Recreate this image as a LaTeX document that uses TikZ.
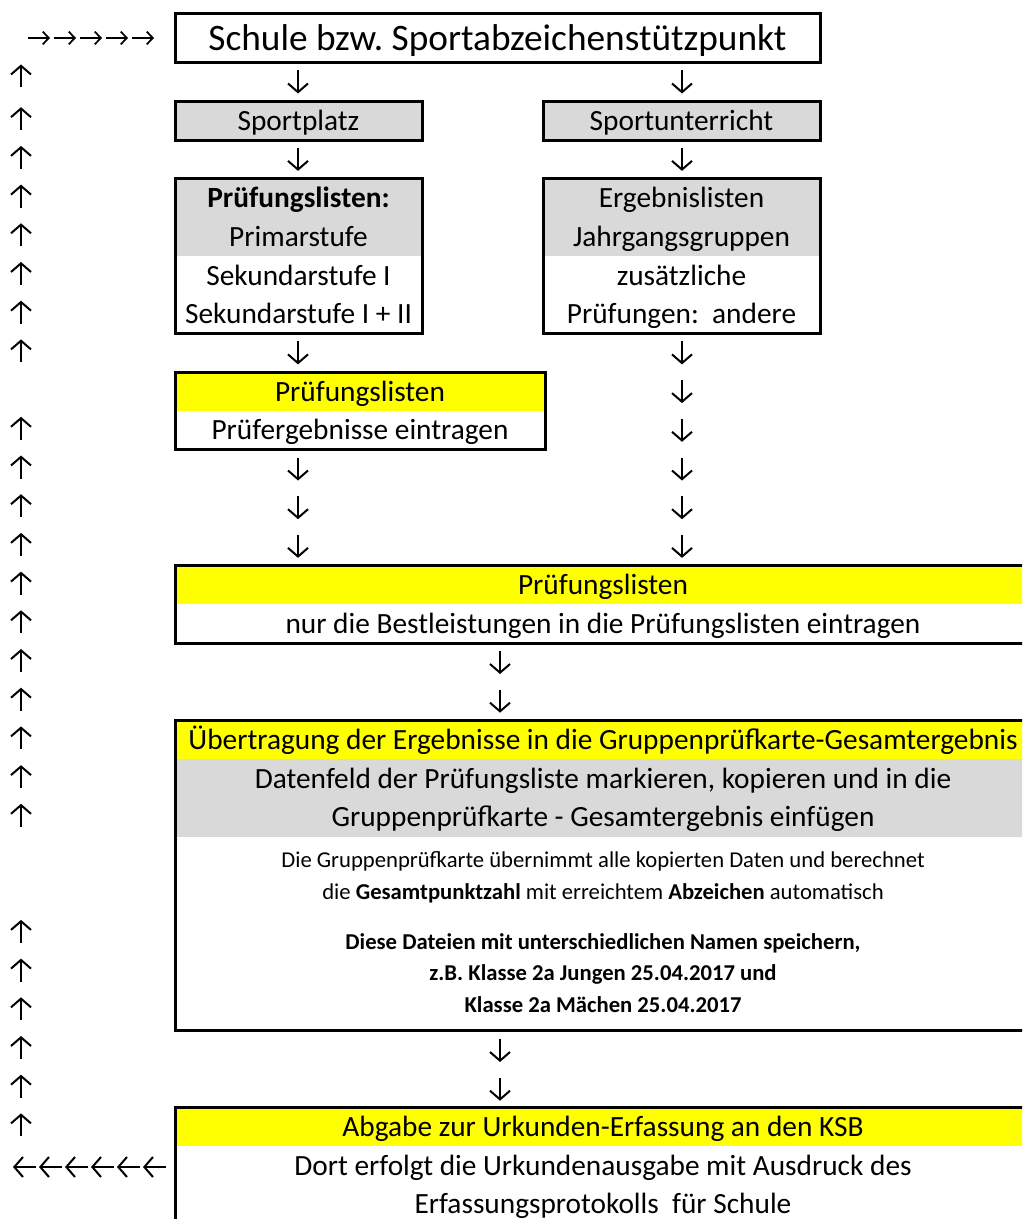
\documentclass[tikz,border=0pt]{standalone}
\usepackage{fontspec}
\setmainfont{Carlito}
\usetikzlibrary{arrows.meta}
\definecolor{zellgrau}{HTML}{D9D9D9}
\definecolor{zellgelb}{HTML}{FFFF00}

\begin{document}
\begin{tikzpicture}[x=0.75pt,y=-0.75pt,
    txt/.style={inner sep=0pt,text height=14.5pt,text depth=0pt,font=\fontsize{22}{26}\selectfont},
    titel/.style={inner sep=0pt,text height=18.5pt,text depth=0pt,font=\fontsize{28}{32}\selectfont},
    klein/.style={inner sep=0pt,text height=11.2pt,text depth=0pt,font=\fontsize{17}{20}\selectfont},
    fett/.style={klein,font=\fontsize{17}{20}\selectfont\bfseries},
    pfeil/.style={line width=1.5pt,-{Straight Barb[length=6.5pt,width=15pt]}},
    kpfeil/.style={line width=1.3pt,-{Straight Barb[length=4.5pt,width=9.5pt]}},
    rahmen/.style={draw,line width=2.25pt}]
        \useasboundingbox (0,0) rectangle (1022,1219);
        \fill[white] (0,0) rectangle (1022,1219);
        \clip (0,0) rectangle (1022,1219);

        \fill[zellgrau] (175,101.35) rectangle (422,140.05);
        \fill[zellgrau] (543,101.35) rectangle (820,140.05);
        \fill[zellgrau] (175,178.75) rectangle (422,256.15);
        \fill[zellgrau] (543,178.75) rectangle (820,256.15);
        \fill[zellgelb] (175,372.25) rectangle (545,410.95);
        \fill[zellgelb] (175,565.75) rectangle (1031,604.45);
        \fill[zellgelb] (175,720.55) rectangle (1031,759.25);
        \fill[zellgrau] (175,759.25) rectangle (1031,836.65);
        \fill[zellgelb] (175,1107.55) rectangle (1031,1146.25);

        \draw[rahmen] (175,14) rectangle (820,63);
        \draw[rahmen] (175,101.35) rectangle (422,140.05);
        \draw[rahmen] (543,101.35) rectangle (820,140.05);
        \draw[rahmen] (175,178.75) rectangle (422,333.55);
        \draw[rahmen] (543,178.75) rectangle (820,333.55);
        \draw[rahmen] (175,372.25) rectangle (545,449.65);
        \draw[rahmen] (175,565.75) rectangle (1031,643.15);
        \draw[rahmen] (175,720.55) rectangle (1031,1030.15);
        \draw[rahmen] (175,1107.55) rectangle (1031,1260);

        \node[titel] (schule) at (497.5,38) {Schule bzw.\ Sportabzeichenstützpunkt};
        \node[txt] (platz) at (298.5,120.7) {Sportplatz};
        \node[txt] (unterricht) at (681.5,120.7) {Sportunterricht};

        \node[txt] (pl1) at (298.5,198.1) {\textbf{Prüfungslisten:}};
        \node[txt] (pl2) at (298.5,236.8) {Primarstufe};
        \node[txt] (pl3) at (298.5,275.5) {Sekundarstufe I};
        \node[txt] (pl4) at (298.5,314.2) {Sekundarstufe I + II};
        \node[txt] (el1) at (681.5,198.1) {Ergebnislisten};
        \node[txt] (el2) at (681.5,236.8) {Jahrgangsgruppen};
        \node[txt] (el3) at (681.5,275.5) {zusätzliche};
        \node[txt] (el4) at (681.5,314.2) {Prüfungen:\ \ andere};

        \node[txt] (pe1) at (360,391.6) {Prüfungslisten};
        \node[txt] (pe2) at (360,430.3) {Prüfergebnisse eintragen};

        \node[txt] (bl1) at (603,585.1) {Prüfungslisten};
        \node[txt] (bl2) at (603,623.8) {nur die Bestleistungen in die Prüfungslisten eintragen};

        \node[txt] (gk1) at (603,739.9) {Übertragung der Ergebnisse in die Gruppenprüfkarte-Gesamtergebnis};
        \node[txt] (gk2) at (603,778.6) {Datenfeld der Prüfungsliste markieren, kopieren und in die};
        \node[txt] (gk3) at (603,817.3) {Gruppenprüfkarte - Gesamtergebnis einfügen};
        \node[klein] (gk4) at (603,860) {Die Gruppenprüfkarte übernimmt alle kopierten Daten und berechnet};
        \node[klein] (gk5) at (603,892) {die \textbf{Gesamtpunktzahl} mit erreichtem \textbf{Abzeichen} automatisch};
        \node[fett] (gk6) at (603,942) {Diese Dateien mit unterschiedlichen Namen speichern,};
        \node[fett] (gk7) at (603,973) {z.B. Klasse 2a Jungen 25.04.2017 und};
        \node[fett] (gk8) at (603,1005) {Klasse 2a Mächen 25.04.2017};

        \node[txt] (ksb1) at (603,1126.9) {Abgabe zur Urkunden-Erfassung an den KSB};
        \node[txt] (ksb2) at (603,1165.6) {Dort erfolgt die Urkundenausgabe mit Ausdruck des};
        \node[txt] (ksb3) at (603,1204.3) {Erfassungsprotokolls\ \ für Schule};

        \foreach \x [count=\i] in {28,54,80,106,132} {
            \coordinate (hina\i) at (\x,38);
            \coordinate (hinb\i) at (\x+22,38);
            \draw[kpfeil] (hina\i) -- (hinb\i);
        }
        \foreach \x [count=\i] in {13,39,65,91,117,143} {
            \coordinate (zura\i) at (\x+23,1167);
            \coordinate (zurb\i) at (\x,1167);
            \draw[pfeil] (zura\i) -- (zurb\i);
        }

        \foreach \x/\y [count=\i] in {298/82,682/82,298/159.4,682/159.4,298/352.9,682/352.9,
            682/391.6,682/430.3,298/469,682/469,298/507.7,682/507.7,298/546.4,682/546.4,
            500/662.5,500/701.2,500/1050.5,500/1089.2} {
            \coordinate (aba\i) at (\x,\y-11.5);
            \coordinate (abb\i) at (\x,\y+11.5);
            \draw[pfeil] (aba\i) -- (abb\i);
        }

        \foreach \y [count=\i] in {76,118.7,157.4,196.1,234.8,273.5,312.2,350.9,
            428.3,467,505.7,544.4,583.1,621.8,660.5,699.2,737.9,776.6,815.3,
            931.4,970.1,1008.8,1047.5,1086.2,1124.9} {
            \coordinate (aufa\i) at (21,\y+11.5);
            \coordinate (aufb\i) at (21,\y-11.5);
            \draw[pfeil] (aufa\i) -- (aufb\i);
        }

    \end{tikzpicture}
\end{document}
